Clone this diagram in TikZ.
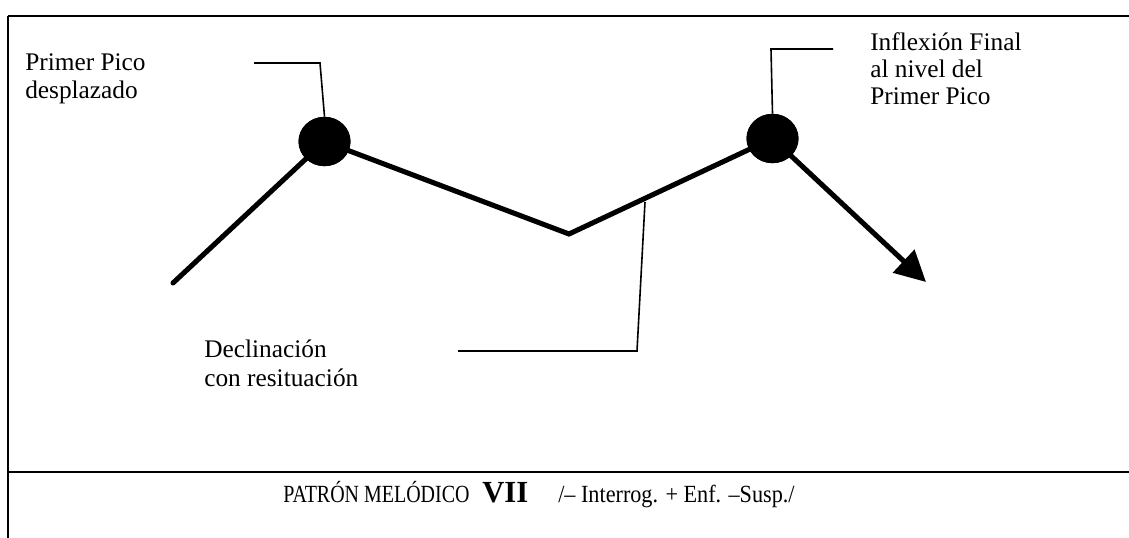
\documentclass[tikz,border=0pt]{standalone}
\usepackage{fontspec}
\setmainfont{Liberation Serif}
\newfontfamily\capsnarrow[FakeStretch=0.81]{Liberation Serif}
\newfontfamily\textnarrow[FakeStretch=0.9]{Liberation Serif}
\usetikzlibrary{arrows.meta,shapes.geometric}
\begin{document}
\begin{tikzpicture}[x=0.75pt,y=-0.75pt,
  frame/.style={line width=1.6pt},
  contour/.style={line width=3.8pt},
  callout/.style={line width=1.2pt},
  peak/.style={ellipse,fill=black,minimum width=39pt,minimum height=37pt,inner sep=0pt},
  lbl/.style={anchor=base west,inner sep=0pt,align=left}]
\useasboundingbox (0,0) rectangle (1129,538);
% frame
\draw[frame] (8,16) -- (1129,16);
\draw[frame] (8,16) -- (8,538);
\draw[frame] (8,472) -- (1129,472);
% contour points
\coordinate (start) at (173,283);
\node[peak] (p1) at (324.5,141.5) {};
\coordinate (valley) at (569,234);
\node[peak] (p2) at (772.5,138.5) {};
\coordinate (end) at (926,282);
\draw[contour,line cap=round] (start) -- (p1.center) -- (valley) -- (p2.center);
\draw[contour,-{Triangle[length=23pt,width=23pt]}] (p2.center) -- (end);
\node[peak] at (p1) {};
\node[peak] at (p2) {};
% labels (anchored at the baseline of their last line)
\node[lbl,font=\fontsize{19}{21}\selectfont] (t1) at (25,99) {Primer Pico\\desplazado};
\node[lbl,font=\fontsize{19}{20.6}\selectfont] (t2) at (870,105) {Inflexión Final\\al nivel del\\Primer Pico};
\node[lbl,font=\fontsize{19}{21.75}\selectfont] (t3) at (204,387) {Declinación\\con resituación};
% callouts
\coordinate (c1a) at (254,63);
\coordinate (c1b) at (320,63);
\draw[callout] (c1a) -- (c1b) -- (p1.north);
\coordinate (c2a) at (833,49);
\coordinate (c2b) at (771,49);
\draw[callout] (c2a) -- (c2b) -- (p2.north);
\coordinate (c3a) at (645,202);
\coordinate (c3b) at (637,351);
\coordinate (c3c) at (458,351);
\draw[callout] (c3a) -- (c3b) -- (c3c);
% footer
\node[lbl,font=\fontsize{18.5}{22}\capsnarrow] (f1) at (283,502) {PATRÓN MELÓDICO};
\node[lbl,font=\fontsize{23}{26}\selectfont\bfseries] (f2) at (482,502) {VII};
\node[lbl,font=\fontsize{18.5}{22}\textnarrow] (f3) at (558,502) {/– Interrog. + Enf. –Susp./};
\end{tikzpicture}
\end{document}
